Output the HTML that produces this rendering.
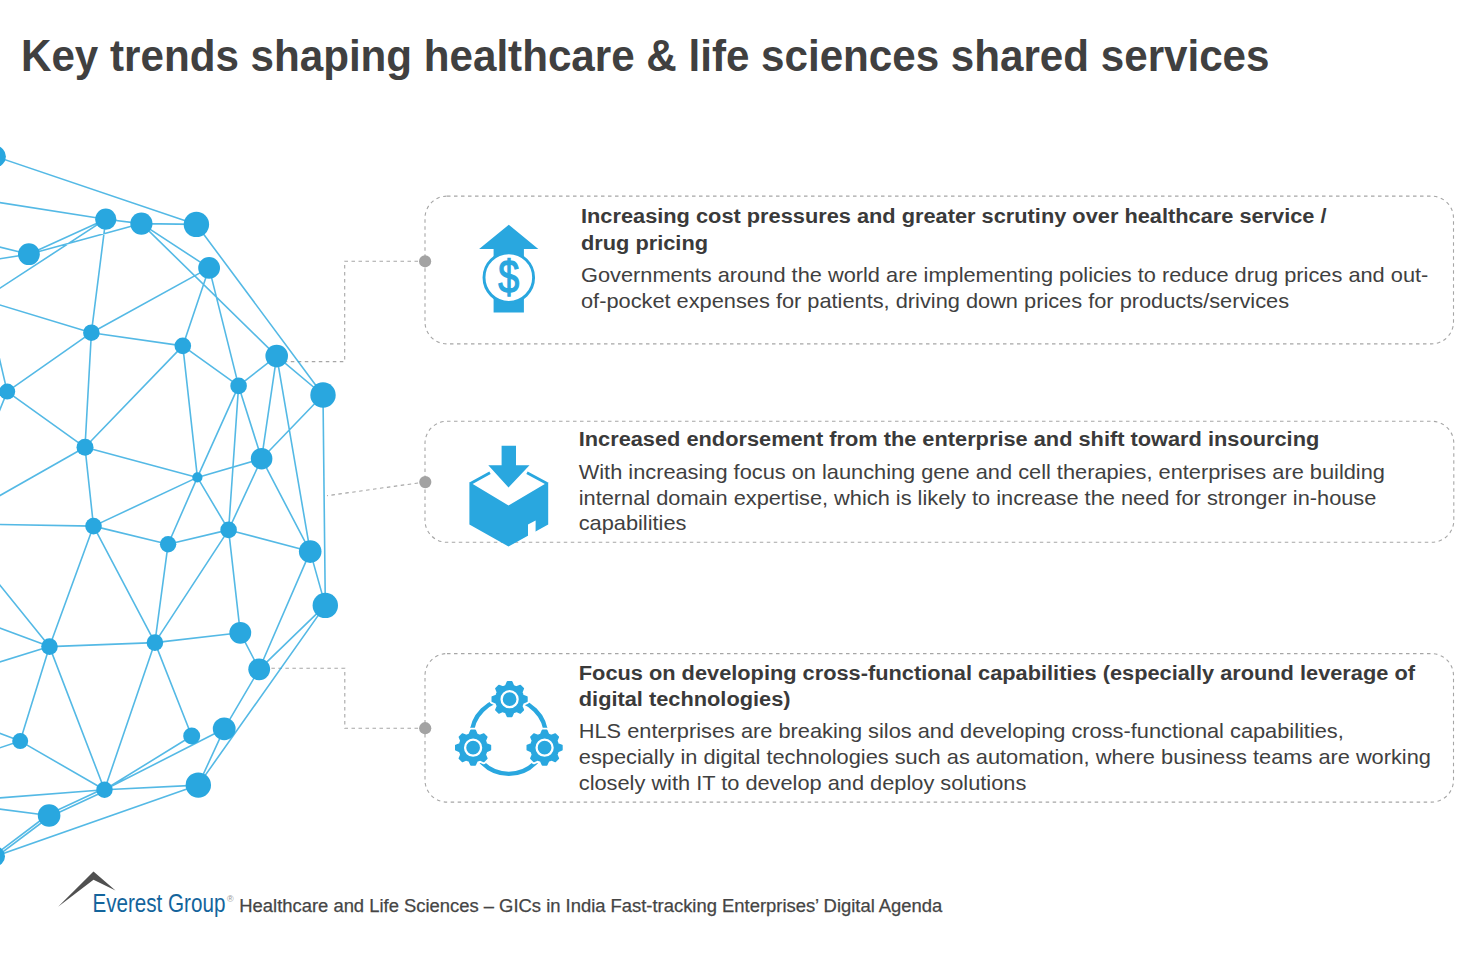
<!DOCTYPE html>
<html><head><meta charset="utf-8">
<style>
html,body{margin:0;padding:0;background:#fff;}
body{width:1469px;height:953px;overflow:hidden;position:relative;}
svg{position:absolute;left:0;top:0;}
text{font-family:"Liberation Sans",sans-serif;}
.h{font-weight:bold;font-size:20.5px;fill:#3a3a3a;}
.b{font-size:20.5px;fill:#404040;}
</style></head><body>
<svg width="1469" height="953" viewBox="0 0 1469 953">
<!-- connectors -->
<g stroke="#a6a6a6" stroke-width="1.1" fill="none" stroke-dasharray="3.5 3.5">
<path d="M425 261.3H344.7V361.6H268"/>
<path d="M425 482L327 495.7"/>
<path d="M425 728.2H344.8V668.3H262"/>
<rect x="425" y="196.1" width="1028.5" height="147.8" rx="22" ry="22"/>
<rect x="425" y="421.3" width="1028.8" height="121" rx="22" ry="22"/>
<rect x="425" y="653.6" width="1028.5" height="148.5" rx="22" ry="22"/>
</g>
<g stroke="#29a7df" stroke-width="1.6" fill="none" opacity="0.8"><path d="M-4.7 156.4L196.4 224.4M105.8 219.2L141.4 223.6M141.4 223.6L196.4 224.4M141.4 223.6L209.1 267.9M141.4 223.6L276.7 356.1M28.9 254.2L105.8 219.2M28.9 254.2L141.4 223.6M105.8 219.2L91.4 332.7M209.1 267.9L91.4 332.7M209.1 267.9L182.8 345.9M209.1 267.9L238.6 385.9M196.4 224.4L323 395M91.4 332.7L182.8 345.9M91.4 332.7L7.2 391.6M91.4 332.7L85 447.3M7.2 391.6L85 447.3M182.8 345.9L85 447.3M182.8 345.9L238.6 385.9M182.8 345.9L197.4 477.4M85 447.3L93.5 526.1M85 447.3L197.4 477.4M276.7 356.1L238.6 385.9M276.7 356.1L323 395M276.7 356.1L261.6 458.7M276.7 356.1L310.2 551.6M238.6 385.9L197.4 477.4M238.6 385.9L261.6 458.7M238.6 385.9L228.6 529.9M323 395L261.6 458.7M323 395L325.3 605.4M261.6 458.7L197.4 477.4M261.6 458.7L228.6 529.9M261.6 458.7L310.2 551.6M197.4 477.4L93.5 526.1M197.4 477.4L168.1 544.2M197.4 477.4L228.6 529.9M93.5 526.1L168.1 544.2M93.5 526.1L49.5 646.6M93.5 526.1L154.9 642.6M168.1 544.2L228.6 529.9M168.1 544.2L154.9 642.6M228.6 529.9L310.2 551.6M228.6 529.9L154.9 642.6M228.6 529.9L240.3 632.8M310.2 551.6L325.3 605.4M310.2 551.6L259.2 669.3M325.3 605.4L259.2 669.3M325.3 605.4L198.3 785.1M240.3 632.8L154.9 642.6M240.3 632.8L259.2 669.3M49.5 646.6L154.9 642.6M49.5 646.6L20.2 741.1M49.5 646.6L104.5 789.8M154.9 642.6L104.5 789.8M154.9 642.6L191.7 736M20.2 741.1L104.5 789.8M104.5 789.8L191.7 736M104.5 789.8L224.2 728.8M104.5 789.8L198.3 785.1M259.2 669.3L224.2 728.8M224.2 728.8L198.3 785.1M-5 856.3L198.3 785.1M104 788.6L48.6 814.3M105 791L49.6 816.7M48.4 814.5L-5.7 855.3M49.8 816.5L-4.3 857.3M105.8 219.2L-10 201M28.9 254.2L-10 244.6M28.9 254.2L-10 260.3M105.8 219.2L-10 294.6M91.4 332.7L-10 302M7.2 391.6L-10 318.5M7.2 391.6L-10 433.9M85 447.3L-10 501.2M93.5 526.1L-10 524.3M49.5 646.6L-10 572.8M49.5 646.6L-10 624.5M49.5 646.6L-10 664.9M20.2 741.1L-10 729.7M20.2 741.1L-10 751M104.5 789.8L-10 798.6M49.1 815.5L-10 807.8"/></g>
<g fill="#29a7df"><circle cx="-4.7" cy="156.4" r="10.6"/><circle cx="105.8" cy="219.2" r="10.6"/><circle cx="141.4" cy="223.6" r="11.1"/><circle cx="28.9" cy="254.2" r="10.9"/><circle cx="196.4" cy="224.4" r="12.7"/><circle cx="209.1" cy="267.9" r="10.9"/><circle cx="91.4" cy="332.7" r="8.3"/><circle cx="7.2" cy="391.6" r="8"/><circle cx="85" cy="447.3" r="8.5"/><circle cx="182.8" cy="345.9" r="8.3"/><circle cx="276.7" cy="356.1" r="11.3"/><circle cx="238.6" cy="385.9" r="8.3"/><circle cx="323" cy="395" r="12.7"/><circle cx="261.6" cy="458.7" r="10.8"/><circle cx="197.4" cy="477.4" r="5.1"/><circle cx="93.5" cy="526.1" r="8.3"/><circle cx="168.1" cy="544.2" r="8.2"/><circle cx="228.6" cy="529.9" r="8.3"/><circle cx="310.2" cy="551.6" r="11.3"/><circle cx="325.3" cy="605.4" r="12.7"/><circle cx="240.3" cy="632.8" r="10.9"/><circle cx="49.5" cy="646.6" r="8.3"/><circle cx="154.9" cy="642.6" r="8.3"/><circle cx="20.2" cy="741.1" r="8"/><circle cx="104.5" cy="789.8" r="8.2"/><circle cx="49.1" cy="815.5" r="11.3"/><circle cx="259.2" cy="669.3" r="10.9"/><circle cx="224.2" cy="728.8" r="11.4"/><circle cx="191.7" cy="736" r="8.5"/><circle cx="198.3" cy="785.1" r="12.7"/><circle cx="-5" cy="856.3" r="10"/></g>
<g fill="#a3a3a3"><circle cx="425.1" cy="261.3" r="6.1"/><circle cx="425.3" cy="482.1" r="6.1"/><circle cx="425.2" cy="728.2" r="6.1"/></g>
<!-- icon 1 -->
<g fill="#29a7df">
<polygon points="508.8,224.7 538.3,249.1 523.9,249.1 523.9,312.5 493.6,312.5 493.6,249.1 479.1,249.1"/>
<circle cx="508.8" cy="277.6" r="25" fill="#fff"/>
<circle cx="508.8" cy="277.6" r="24.8" fill="none" stroke="#29a7df" stroke-width="2.9"/>
<text x="0" y="0" text-anchor="middle" transform="translate(508.8 292.5) scale(0.82 1)" style="font-size:46px" fill="#29a7df" stroke="#29a7df" stroke-width="1.3">$</text>
</g>
<!-- icon 2 -->
<g fill="#29a7df">
<polygon points="469.4,482 508.5,505.5 548.2,482 548.2,524.4 508.5,546.5 469.4,524.4"/>
<polygon points="528,524.6 535.6,520.4 535.6,533 528,537.5" fill="#fff"/>
<path d="M470.5 483.5L490 472.7M527 472.7L547 483.5" stroke="#29a7df" stroke-width="2.8"/>
<polygon points="501.6,445.7 516,445.7 516,465.2 529.5,465.2 508.5,487.6 488.3,465.2 501.6,465.2" stroke="#fff" stroke-width="3" paint-order="stroke"/>
</g>
<!-- icon 3 -->
<g fill="none" stroke="#29a7df" stroke-width="4.3">
<circle cx="508.8" cy="736.5" r="37.3"/>
</g>
<path d="M505.8 685.8L507.5 681.9L511.7 681.9L513.4 685.8L514.1 686.1L514.9 686.4L515.7 686.7L516.4 687.1L520.3 685.5L523.3 688.5L521.7 692.4L522.1 693.1L522.4 693.9L522.7 694.7L523 695.4L526.9 697.1L526.9 701.3L523 703L522.7 703.7L522.4 704.5L522.1 705.3L521.7 706L523.3 709.9L520.3 712.9L516.4 711.3L515.7 711.7L514.9 712L514.1 712.3L513.4 712.6L511.7 716.5L507.5 716.5L505.8 712.6L505.1 712.3L504.3 712L503.5 711.7L502.8 711.3L498.9 712.9L495.9 709.9L497.5 706L497.1 705.3L496.8 704.5L496.5 703.7L496.2 703L492.3 701.3L492.3 697.1L496.2 695.4L496.5 694.7L496.8 693.9L497.1 693.1L497.5 692.4L495.9 688.5L498.9 685.5L502.8 687.1L503.5 686.7L504.3 686.4L505.1 686.1Z" fill="#fff" stroke="#fff" stroke-width="5.5" stroke-linejoin="round"/><path d="M469.3 734.3L471 730.4L475.2 730.4L476.9 734.3L477.6 734.6L478.4 734.9L479.2 735.2L479.9 735.6L483.8 734L486.8 737L485.2 740.9L485.6 741.6L485.9 742.4L486.2 743.2L486.5 743.9L490.4 745.6L490.4 749.8L486.5 751.5L486.2 752.2L485.9 753L485.6 753.8L485.2 754.5L486.8 758.4L483.8 761.4L479.9 759.8L479.2 760.2L478.4 760.5L477.6 760.8L476.9 761.1L475.2 765L471 765L469.3 761.1L468.6 760.8L467.8 760.5L467 760.2L466.3 759.8L462.4 761.4L459.4 758.4L461 754.5L460.6 753.8L460.3 753L460 752.2L459.7 751.5L455.8 749.8L455.8 745.6L459.7 743.9L460 743.2L460.3 742.4L460.6 741.6L461 740.9L459.4 737L462.4 734L466.3 735.6L467 735.2L467.8 734.9L468.6 734.6Z" fill="#fff" stroke="#fff" stroke-width="5.5" stroke-linejoin="round"/><path d="M540.8 734.3L542.5 730.4L546.7 730.4L548.4 734.3L549.1 734.6L549.9 734.9L550.7 735.2L551.4 735.6L555.3 734L558.3 737L556.7 740.9L557.1 741.6L557.4 742.4L557.7 743.2L558 743.9L561.9 745.6L561.9 749.8L558 751.5L557.7 752.2L557.4 753L557.1 753.8L556.7 754.5L558.3 758.4L555.3 761.4L551.4 759.8L550.7 760.2L549.9 760.5L549.1 760.8L548.4 761.1L546.7 765L542.5 765L540.8 761.1L540.1 760.8L539.3 760.5L538.5 760.2L537.8 759.8L533.9 761.4L530.9 758.4L532.5 754.5L532.1 753.8L531.8 753L531.5 752.2L531.2 751.5L527.3 749.8L527.3 745.6L531.2 743.9L531.5 743.2L531.8 742.4L532.1 741.6L532.5 740.9L530.9 737L533.9 734L537.8 735.6L538.5 735.2L539.3 734.9L540.1 734.6Z" fill="#fff" stroke="#fff" stroke-width="5.5" stroke-linejoin="round"/><path d="M505.8 685.8L507.5 681.9L511.7 681.9L513.4 685.8L514.1 686.1L514.9 686.4L515.7 686.7L516.4 687.1L520.3 685.5L523.3 688.5L521.7 692.4L522.1 693.1L522.4 693.9L522.7 694.7L523 695.4L526.9 697.1L526.9 701.3L523 703L522.7 703.7L522.4 704.5L522.1 705.3L521.7 706L523.3 709.9L520.3 712.9L516.4 711.3L515.7 711.7L514.9 712L514.1 712.3L513.4 712.6L511.7 716.5L507.5 716.5L505.8 712.6L505.1 712.3L504.3 712L503.5 711.7L502.8 711.3L498.9 712.9L495.9 709.9L497.5 706L497.1 705.3L496.8 704.5L496.5 703.7L496.2 703L492.3 701.3L492.3 697.1L496.2 695.4L496.5 694.7L496.8 693.9L497.1 693.1L497.5 692.4L495.9 688.5L498.9 685.5L502.8 687.1L503.5 686.7L504.3 686.4L505.1 686.1Z" fill="#29a7df" stroke="#29a7df" stroke-width="1.6" stroke-linejoin="round"/><circle cx="509.6" cy="699.2" r="8.0" fill="none" stroke="#fff" stroke-width="2.3"/><path d="M469.3 734.3L471 730.4L475.2 730.4L476.9 734.3L477.6 734.6L478.4 734.9L479.2 735.2L479.9 735.6L483.8 734L486.8 737L485.2 740.9L485.6 741.6L485.9 742.4L486.2 743.2L486.5 743.9L490.4 745.6L490.4 749.8L486.5 751.5L486.2 752.2L485.9 753L485.6 753.8L485.2 754.5L486.8 758.4L483.8 761.4L479.9 759.8L479.2 760.2L478.4 760.5L477.6 760.8L476.9 761.1L475.2 765L471 765L469.3 761.1L468.6 760.8L467.8 760.5L467 760.2L466.3 759.8L462.4 761.4L459.4 758.4L461 754.5L460.6 753.8L460.3 753L460 752.2L459.7 751.5L455.8 749.8L455.8 745.6L459.7 743.9L460 743.2L460.3 742.4L460.6 741.6L461 740.9L459.4 737L462.4 734L466.3 735.6L467 735.2L467.8 734.9L468.6 734.6Z" fill="#29a7df" stroke="#29a7df" stroke-width="1.6" stroke-linejoin="round"/><circle cx="473.1" cy="747.7" r="8.0" fill="none" stroke="#fff" stroke-width="2.3"/><path d="M540.8 734.3L542.5 730.4L546.7 730.4L548.4 734.3L549.1 734.6L549.9 734.9L550.7 735.2L551.4 735.6L555.3 734L558.3 737L556.7 740.9L557.1 741.6L557.4 742.4L557.7 743.2L558 743.9L561.9 745.6L561.9 749.8L558 751.5L557.7 752.2L557.4 753L557.1 753.8L556.7 754.5L558.3 758.4L555.3 761.4L551.4 759.8L550.7 760.2L549.9 760.5L549.1 760.8L548.4 761.1L546.7 765L542.5 765L540.8 761.1L540.1 760.8L539.3 760.5L538.5 760.2L537.8 759.8L533.9 761.4L530.9 758.4L532.5 754.5L532.1 753.8L531.8 753L531.5 752.2L531.2 751.5L527.3 749.8L527.3 745.6L531.2 743.9L531.5 743.2L531.8 742.4L532.1 741.6L532.5 740.9L530.9 737L533.9 734L537.8 735.6L538.5 735.2L539.3 734.9L540.1 734.6Z" fill="#29a7df" stroke="#29a7df" stroke-width="1.6" stroke-linejoin="round"/><circle cx="544.6" cy="747.7" r="8.0" fill="none" stroke="#fff" stroke-width="2.3"/>
<!-- logo chevron -->
<polygon points="58.1,906.7 93.5,871.6 115.5,890.4 93.5,879.7" fill="#505050"/>
<!-- title -->
<text x="21" y="71.3" textLength="1248.5" lengthAdjust="spacingAndGlyphs" style="font-size:44px;font-weight:bold" fill="#404040">Key trends shaping healthcare &amp; life sciences shared services</text>
<g transform="translate(581 0) scale(1.063 1) translate(-581 0)">
<!-- card 1 -->
<text class="h" x="581" y="223.1">Increasing cost pressures and greater scrutiny over healthcare service /</text>
<text class="h" x="581" y="249.7">drug pricing</text>
<text class="b" x="581" y="281.7">Governments around the world are implementing policies to reduce drug prices and out-</text>
<text class="b" x="581" y="307.6">of-pocket expenses for patients, driving down prices for products/services</text>
</g>
<g transform="translate(578.7 0) scale(1.063 1) translate(-578.7 0)">
<!-- card 2 -->
<text class="h" x="578.7" y="446.5">Increased endorsement from the enterprise and shift toward insourcing</text>
<text class="b" x="578.7" y="479">With increasing focus on launching gene and cell therapies, enterprises are building</text>
<text class="b" x="578.7" y="504.6">internal domain expertise, which is likely to increase the need for stronger in-house</text>
<text class="b" x="578.7" y="530.5">capabilities</text>
</g>
<g transform="translate(578.8 0) scale(1.063 1) translate(-578.8 0)">
<!-- card 3 -->
<text class="h" x="578.8" y="679.7">Focus on developing cross-functional capabilities (especially around leverage of</text>
<text class="h" x="578.8" y="706.4">digital technologies)</text>
<text class="b" x="578.8" y="738">HLS enterprises are breaking silos and developing cross-functional capabilities,</text>
<text class="b" x="578.8" y="763.8">especially in digital technologies such as automation, where business teams are working</text>
<text class="b" x="578.8" y="790.5">closely with IT to develop and deploy solutions</text>
</g>
<!-- footer -->
<text x="92.4" y="912" textLength="133" lengthAdjust="spacingAndGlyphs" style="font-size:26.5px" fill="#13649c">Everest Group</text>
<text x="227" y="902" style="font-size:9px" fill="#999">®</text>
<text x="239.3" y="912.3" textLength="703" lengthAdjust="spacingAndGlyphs" style="font-size:18.3px" fill="#454545" stroke="#454545" stroke-width="0.25">Healthcare and Life Sciences – GICs in India Fast-tracking Enterprises’ Digital Agenda</text>
</svg>
</body></html>
